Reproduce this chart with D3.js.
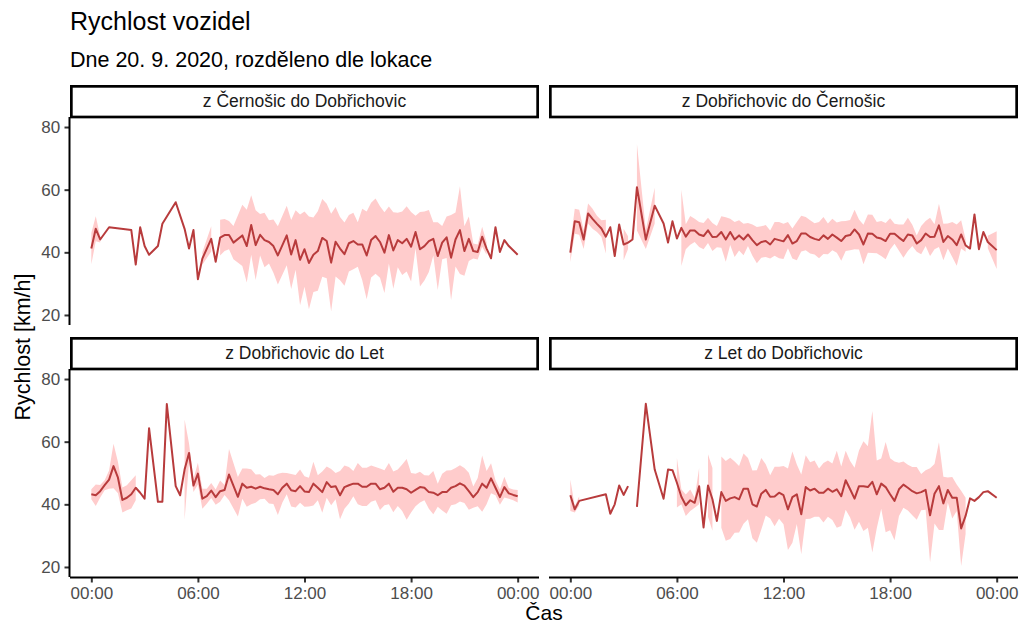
<!DOCTYPE html>
<meta charset="utf-8">
<style>
body { margin: 0; background: #fff; }
svg { display: block; font-family: "Liberation Sans", Arial, sans-serif; }
.axis .domain { display: none; }
.axis line { stroke: #333333; stroke-width: 2; }
.axis text { fill: #4d4d4d; font-size: 17px; font-family: "Liberation Sans", Arial, sans-serif; }
.strip rect { fill: #fff; stroke: #000; stroke-width: 2.7; }
.strip text { fill: #1a1a1a; font-size: 17.5px; }
</style>

<svg width="1022" height="626"></svg>

<script src="https://d3js.org/d3.v7.min.js"></script>
<script>

// facet names (lokace)
var lokace = ["z Černošic do Dobřichovic", "z Dobřichovic do Černošic",
              "z Dobřichovic do Let", "z Let do Dobřichovic"];

// x ticks in hours of the day, y ticks in km/h
var casTicks = [0, 6, 12, 18, 24];
var casLabels = ["00:00", "06:00", "12:00", "18:00", "00:00"];
var rychlostTicks = [20, 40, 60, 80];

// z Černošic do Dobřichovic : time (h), mean speed, sd
var cas1 = [0, 0.25, 0.5, 1, 2.25, 2.5, 2.75, 3, 3.25, 3.75,
  4, 4.75, 5.25, 5.5, 5.75, 6, 6.25, 6.75, 7, 7.25,
  7.5, 7.75, 8, 8.5, 8.75, 9, 9.25, 9.5, 9.75, 10,
  10.25, 10.5, 11, 11.25, 11.5, 11.75, 12, 12.25, 12.5, 12.75,
  13, 13.25, 13.5, 13.75, 14, 14.25, 14.5, 14.75, 15, 15.25,
  15.5, 15.75, 16, 16.25, 16.5, 16.75, 17, 17.25, 17.5, 17.75,
  18, 18.25, 18.5, 18.75, 19, 19.25, 19.5, 19.75, 20, 20.25,
  20.5, 20.75, 21, 21.25, 21.5, 21.75, 22, 22.25, 22.5, 22.75,
  23, 23.25, 23.5, 24];
var prumer1 = [41.2, 47.5, 44.1, 48.0, 47.1, 36.1, 48.0, 42.0, 39.2, 42.0,
  49.1, 56.0, 47.5, 41.2, 47.1, 31.4, 38.0, 44.3, 37.0, 44.7,
  45.5, 45.5, 43.1, 45.4, 42.0, 48.7, 42.3, 45.6, 43.9, 43.3,
  42.0, 39.0, 45.4, 39.3, 43.9, 37.6, 41.0, 36.6, 39.2, 40.4,
  44.6, 43.6, 36.7, 43.4, 41.2, 39.4, 42.9, 43.6, 42.5, 42.5,
  39.0, 43.9, 45.2, 43.3, 39.9, 45.5, 40.6, 43.9, 42.9, 44.3,
  41.8, 46.5, 41.0, 42.0, 43.6, 44.3, 38.8, 43.1, 44.8, 38.3,
  44.1, 47.1, 40.4, 44.3, 40.4, 40.1, 45.0, 41.2, 38.1, 48.0,
  40.1, 43.9, 42.0, 39.2];
var sd1 = [5, 4, 1, null, null, null, null, null, null, null,
  null, null, null, null, null, null, 2, 4, null, 5.7,
  5.1, 4.5, 5.3, 9.8, 11.6, 9.5, 11.1, 6.6, 8.7, 6.9,
  8.5, 9.3, 9.5, 11, 9.5, 14.5, 12, 14.8, 11.9, 12.7,
  12.4, 11.9, 15.6, 11.1, 10.1, 10.1, 9, 9, 7.1, 11.4,
  14, 11.9, 12, 11.4, 12.9, 9.1, 12.2, 8.7, 10.1, 10.4,
  11.1, 5.2, 11.9, 11, 9.9, 5.3, 10.8, 5.3, 6.6, 13.6,
  8.6, 14, 7.9, 7.1, 2.4, 2.4, 3.2, 2, null, null,
  null, null, null, null];

// z Dobřichovic do Černošic
var cas2 = [0, 0.25, 0.5, 0.75, 1, 1.25, 1.5, 1.75, 2, 2.25,
  2.5, 2.75, 3, 3.25, 3.5, 3.75, 4.25, 4.75, 5.25, 5.5,
  5.75, 6, 6.25, 6.5, 6.75, 7, 7.25, 7.5, 7.75, 8,
  8.25, 8.5, 8.75, 9, 9.25, 9.5, 9.75, 10, 10.25, 10.5,
  10.75, 11, 11.25, 11.5, 11.75, 12, 12.25, 12.5, 12.75, 13,
  13.25, 13.5, 13.75, 14, 14.25, 14.5, 14.75, 15, 15.25, 15.5,
  15.75, 16, 16.25, 16.5, 16.75, 17, 17.25, 17.5, 17.75, 18,
  18.25, 18.5, 18.75, 19, 19.25, 19.5, 19.75, 20, 20.25, 20.5,
  20.75, 21, 21.25, 21.5, 21.75, 22, 22.25, 22.5, 22.75, 23,
  23.25, 23.5, 24];
var prumer2 = [39.9, 49.9, 49.6, 44.1, 52.4, 50.7, 49.1, 47.6, 45.0, 48.0,
  38.8, 48.9, 42.5, 43.1, 44.1, 60.8, 44.1, 54.9, 49.2, 43.1,
  49.9, 44.4, 47.8, 45.0, 47.0, 47.0, 45.7, 45.2, 47.0, 44.9,
  45.0, 46.5, 44.1, 46.5, 44.1, 45.4, 44.1, 45.7, 43.9, 42.3,
  43.3, 43.6, 42.5, 44.3, 43.9, 43.5, 45.5, 42.8, 43.6, 46.0,
  46.0, 44.9, 44.3, 43.9, 45.4, 44.3, 45.7, 44.7, 43.6, 45.2,
  45.5, 47.3, 45.7, 42.5, 46.0, 45.9, 44.7, 44.4, 43.6, 45.9,
  45.9, 44.7, 43.6, 45.7, 45.4, 42.8, 43.9, 46.0, 44.9, 45.0,
  48.6, 43.3, 45.2, 44.1, 42.3, 45.7, 42.2, 41.2, 52.1, 41.0,
  46.5, 43.3, 40.7];
var sd2 = [3, 4, 4, 3, 3.2, 3.2, 2.6, 2.6, 5.4, null,
  null, null, 5, 2, null, 13.8, 3, 5.7, null, null,
  null, null, 12.2, 4, 4.6, 3.7, 4, 4.2, 4, 4.5,
  3.4, 5, 7.1, 4.2, 5.6, 4.8, 5, 3.7, 5, 5.8,
  5, 5.1, 4.5, 5.4, 5.8, 5.6, 4.2, 4.8, 6.1, 5.7,
  5.3, 5.3, 5, 5.8, 5.9, 4.9, 5, 4.8, 6.3, 4.8,
  4.8, 6.3, 4.8, 6.3, 6.1, 6.1, 5, 5.6, 5.8, 5,
  3.2, 4.2, 5.3, 5.3, 3.4, 2.6, 4.5, 4, 6.1, 4,
  6.9, 5.8, 4, 5.6, 6.6, 4.5, 2, null, null, null,
  null, 2, 6];

// z Dobřichovic do Let
var cas3 = [0, 0.25, 0.5, 0.75, 1, 1.25, 1.5, 1.75, 2, 2.25,
  2.5, 2.75, 3, 3.25, 3.75, 4, 4.25, 4.75, 5, 5.25,
  5.5, 5.75, 6, 6.25, 6.5, 6.75, 7, 7.25, 7.5, 7.75,
  8.25, 8.5, 8.75, 9, 9.25, 9.5, 9.75, 10, 10.25, 10.5,
  10.75, 11, 11.25, 11.5, 11.75, 12, 12.25, 12.5, 12.75, 13,
  13.25, 13.5, 13.75, 14, 14.25, 14.5, 14.75, 15, 15.25, 15.5,
  15.75, 16, 16.25, 16.5, 16.75, 17, 17.25, 17.5, 17.75, 18,
  18.25, 18.5, 18.75, 19, 19.25, 19.5, 19.75, 20, 20.25, 20.5,
  20.75, 21, 21.25, 21.5, 21.75, 22, 22.25, 22.5, 22.75, 23,
  23.25, 23.5, 23.75, 24];
var prumer3 = [43.2, 42.9, 44.2, 46.1, 47.9, 52.2, 48.5, 41.4, 42.1, 43.2,
  45.3, 43.7, 41.8, 64.3, 40.8, 40.8, 72.0, 45.8, 42.9, 51.1,
  56.4, 46.0, 49.8, 41.8, 42.6, 44.4, 42.3, 44.2, 44.6, 49.5,
  42.4, 46.6, 45.3, 45.6, 45.0, 45.6, 45.1, 44.8, 44.6, 43.2,
  45.3, 46.6, 44.5, 44.2, 45.8, 44.1, 43.9, 46.6, 45.3, 43.9,
  47.1, 45.5, 45.8, 42.9, 45.5, 46.1, 46.6, 46.6, 45.6, 45.6,
  46.6, 46.6, 44.8, 45.3, 46.6, 44.0, 45.3, 45.3, 44.8, 43.7,
  44.6, 45.5, 45.3, 43.9, 43.7, 42.9, 43.9, 43.9, 45.3, 45.8,
  46.7, 46.0, 44.2, 42.3, 43.9, 46.6, 45.3, 48.3, 45.3, 42.3,
  45.5, 43.5, 43.0, 42.6];
var sd3 = [1.6, 3.4, 2, 1.6, 2.9, 7.1, 5, 4, 4, 4.5,
  4, null, null, null, null, null, null, null, null, 16,
  3, 2.1, 3.5, 3.2, 2.4, 2.4, 2.4, 3.4, 1.6, 8.2,
  6.3, 4.8, 6.1, 5.6, 4.5, 4, 3.3, 4.5, 4.5, 6.6,
  4.8, 3.4, 5.2, 5.2, 5.3, 4.9, 4.6, 7, 4, 6.6,
  5, 5.8, 4.2, 7.7, 6.9, 5.8, 4, 6.6, 6.1, 6.1,
  5.8, 5.3, 6.6, 5.6, 6.6, 6.5, 5.8, 7.4, 9.7, 6.3,
  5.2, 4.9, 4, 5.3, 6.9, 3.7, 5.9, 6.9, 5.6, 5.8,
  5.8, 5.6, 5.9, 3.4, 4.5, 9, 5.3, 4.8, 2.4, 2.4,
  3.3, 1.7, 1.7, 2];

// z Let do Dobřichovic (null at 3:30 = no data, line breaks)
var cas4 = [0, 0.25, 0.5, 2, 2.25, 2.5, 2.75, 3, 3.25, 3.5,
  3.75, 4.25, 4.75, 5.25, 5.5, 5.75, 6, 6.25, 6.5, 6.75,
  7, 7.25, 7.5, 7.75, 8, 8.25, 8.5, 8.75, 9, 9.25,
  9.5, 9.75, 10, 10.25, 10.5, 10.75, 11, 11.25, 11.5, 11.75,
  12, 12.25, 12.5, 12.75, 13, 13.25, 13.5, 13.75, 14, 14.25,
  14.5, 14.75, 15, 15.25, 15.5, 15.75, 16, 16.25, 16.5, 16.75,
  17, 17.25, 17.5, 17.75, 18, 18.25, 18.5, 18.75, 19, 19.25,
  19.5, 19.75, 20, 20.25, 20.5, 20.75, 21, 21.25, 21.5, 21.75,
  22, 22.25, 22.5, 22.75, 23, 23.25, 23.5, 24];
var prumer4 = [42.9, 38.4, 41.1, 43.2, 37.0, 40.0, 46.0, 43.0, 45.8, null,
  39.2, 72.1, 51.1, 41.8, 51.1, 50.9, 46.9, 42.4, 39.7, 41.3,
  40.5, 45.8, 32.6, 46.0, 41.6, 34.7, 43.9, 41.1, 41.9, 42.3,
  41.6, 45.0, 45.0, 40.0, 39.3, 43.4, 44.6, 42.4, 42.5, 43.7,
  42.9, 38.4, 42.3, 43.2, 36.8, 45.5, 44.4, 45.0, 43.7, 43.7,
  45.0, 44.0, 44.8, 42.6, 47.7, 44.8, 41.8, 45.8, 45.8, 45.5,
  47.2, 43.2, 46.6, 45.5, 43.2, 41.1, 44.8, 46.3, 45.3, 44.2,
  43.5, 43.9, 44.6, 36.5, 43.4, 45.8, 40.3, 44.6, 42.1, 42.1,
  32.3, 36.3, 41.9, 41.1, 42.3, 43.9, 44.2, 42.1];
var sd4 = [5, 1, 1.5, null, null, null, null, null, null, null,
  null, null, null, null, null, null, 7.9, 2.4, 3.4, 3.4,
  1.6, 5.8, null, 10, 10, null, 11.4, 12.7, 13, 11.4,
  10.6, 11.2, 9.8, 10.8, 11.6, 11.4, 8.2, 6.9, 9.5, 8.3,
  9.3, 13, 14.6, 9.5, 12.7, 10.2, 9, 9, 7.7, 9.5,
  9, 9, 12.3, 9.5, 9.4, 9, 9.9, 11.4, 14.3, 13,
  22.6, 10.8, 8, 14.4, 11.5, 12.6, 8.5, 7.4, 7.3, 7.7,
  8.4, 5.8, 6.3, 15, 9.5, 14, 8.5, 4, 6.6, 4.2,
  12, 5.8, null, null, null, null, null, null];

var casy = [cas1, cas2, cas3, cas4],
    prumery = [prumer1, prumer2, prumer3, prumer4],
    odchylky = [sd1, sd2, sd3, sd4];

//chart setup
var svg = d3.select("svg"),
    panelW = 469,
    panelH = 208,
    stripH = 32,
    cols = [70, 549],
    rows = [117, 369];

var x = d3.scaleLinear().domain([-1.2, 25.2]).range([0, panelW]);
var y = d3.scaleLinear().domain([16.8, 83.2]).range([panelH, 0]);

var ribbon = d3.area()
    .defined(d => d.v != null && d.sd != null)
    .x(d => x(d.t))
    .y0(d => y(d.v - d.sd))
    .y1(d => y(d.v + d.sd));

var line = d3.line()
    .defined(d => d.v != null)
    .x(d => x(d.t))
    .y(d => y(d.v));

svg.append("defs").append("clipPath").attr("id", "panel-clip")
  .append("rect").attr("width", panelW).attr("height", panelH);

lokace.forEach(function(name, i) {
  var col = i % 2, row = Math.floor(i / 2);
  var data = casy[i].map((t, j) => ({t: t, v: prumery[i][j], sd: odchylky[i][j]}));

  var g = svg.append("g")
      .attr("transform", "translate(" + cols[col] + "," + rows[row] + ")");

  var plot = g.append("g").attr("clip-path", "url(#panel-clip)");
  plot.append("path")
      .datum(data)
      .attr("d", ribbon)
      .attr("fill", "#ffcccc");
  plot.append("path")
      .datum(data)
      .attr("d", line)
      .attr("fill", "none")
      .attr("stroke", "#b83b3c")
      .attr("stroke-width", 2)
      .attr("stroke-linejoin", "round");

  // strip above the panel
  var strip = g.append("g").attr("class", "strip")
      .attr("transform", "translate(0," + (-stripH) + ")");
  strip.append("rect")
      .attr("x", 1.35).attr("y", 1.35)
      .attr("width", panelW - 2.7).attr("height", stripH - 1.35);
  strip.append("text")
      .attr("x", panelW / 2).attr("y", 21.5)
      .attr("text-anchor", "middle")
      .text(name);

  // y axis on the left column only
  if (col === 0) {
    g.append("g").attr("class", "axis")
      .call(d3.axisLeft(y).tickValues(rychlostTicks).tickSize(5.5).tickPadding(4.4));
    g.append("line")
      .attr("x1", -0.5).attr("x2", -0.5)
      .attr("y1", 0).attr("y2", panelH)
      .attr("stroke", "#000").attr("stroke-width", 2);
  }
  // x axis on the bottom row only
  if (row === 1) {
    g.append("g").attr("class", "axis")
      .attr("transform", "translate(0," + panelH + ")")
      .call(d3.axisBottom(x).tickValues(casTicks)
        .tickFormat((d, k) => casLabels[k]).tickSize(5.5).tickPadding(4.4));
    g.append("line")
      .attr("x1", 0).attr("x2", panelW)
      .attr("y1", panelH + 0.5).attr("y2", panelH + 0.5)
      .attr("stroke", "#000").attr("stroke-width", 2);
  }
});

// titles
svg.append("text")
    .attr("x", 70).attr("y", 30)
    .attr("font-size", "25px")
    .text("Rychlost vozidel");
svg.append("text")
    .attr("x", 70).attr("y", 67)
    .attr("font-size", "21.5px")
    .text("Dne 20. 9. 2020, rozděleno dle lokace");

svg.append("text")
    .attr("transform", "translate(30,347) rotate(-90)")
    .attr("text-anchor", "middle")
    .attr("font-size", "21.5px")
    .text("Rychlost [km/h]");
svg.append("text")
    .attr("x", 544).attr("y", 620)
    .attr("text-anchor", "middle")
    .attr("font-size", "21px")
    .text("Čas");

</script>
